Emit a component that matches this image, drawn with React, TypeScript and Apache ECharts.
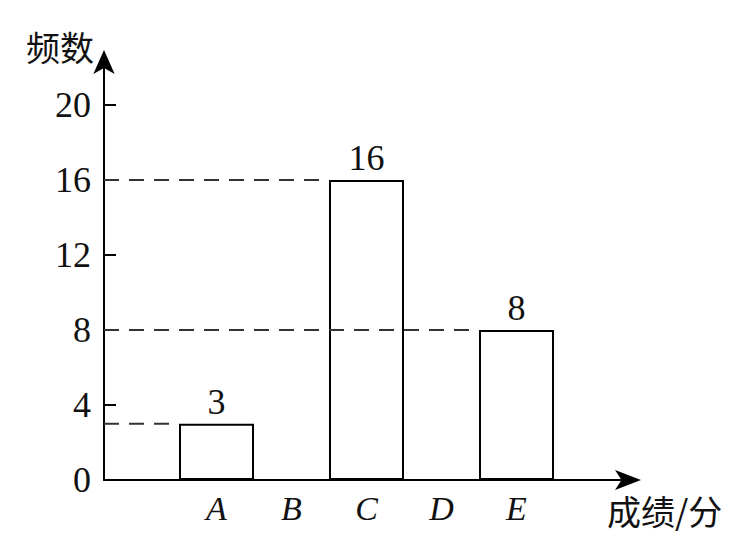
import React, { useEffect, useRef } from "react";
import * as echarts from "echarts";

const categories = ["A", "B", "C", "D", "E"];
const counts = [3, 0, 16, 0, 8];
const yTicks = [0, 4, 8, 12, 16, 20];
const yName = "频数";
const xName = "成绩/分";

const SERIF = "'Liberation Serif', 'Times New Roman', serif";
const CJK = "'Noto Sans CJK SC', sans-serif";

export default function App() {
  const ref = useRef<HTMLDivElement>(null);
  useEffect(() => {
    if (!ref.current) return;
    const chart = echarts.init(ref.current, null, { renderer: "svg" });
    const axisCats = ["", ...categories, ""];
    const barData: any[] = ["-", ...counts, "-"];
    const dashData = counts
      .map((v, i) => [i + 1, v])
      .filter((d) => d[1] > 0);
    chart.setOption({
      animation: false,
      backgroundColor: "#fff",
      grid: { left: 104, right: 107, top: 60, bottom: 65, containLabel: false },
      xAxis: {
        type: "category",
        data: axisCats,
        boundaryGap: true,
        name: xName,
        nameLocation: "end",
        nameGap: -22,
        nameTextStyle: {
          fontFamily: CJK,
          fontSize: 34,
          color: "#111",
          align: "left",
          verticalAlign: "top",
          padding: [14, 0, 0, 0],
        },
        axisLine: {
          show: true,
          symbol: ["none", "arrow"],
          symbolSize: [15, 26],
          symbolOffset: [0, 12],
          lineStyle: { color: "#000", width: 2 },
        },
        axisTick: { show: false },
        axisLabel: {
          fontFamily: SERIF,
          fontStyle: "italic",
          fontSize: 34,
          color: "#111",
          margin: 11,
          interval: 0,
        },
        splitLine: { show: false },
      },
      yAxis: {
        type: "value",
        min: 0,
        max: 22.4,
        interval: 4,
        name: yName,
        nameLocation: "end",
        nameGap: 14,
        nameTextStyle: {
          fontFamily: CJK,
          fontSize: 34,
          color: "#111",
          align: "right",
          verticalAlign: "middle",
          padding: [0, 10, 0, 0],
        },
        axisLine: {
          show: true,
          symbol: ["none", "arrow"],
          symbolSize: [16, 24],
          symbolOffset: [0, 10],
          lineStyle: { color: "#000", width: 2 },
        },
        axisTick: {
          show: true,
          inside: true,
          length: 12,
          customValues: yTicks,
          lineStyle: { color: "#000", width: 2 },
        },
        axisLabel: {
          fontFamily: SERIF,
          fontSize: 36,
          color: "#111",
          margin: 13,
          customValues: yTicks,
          formatter: (v: number) => (yTicks.includes(v) ? String(v) : ""),
        },
        splitLine: { show: false },
      },
      series: [
        {
          type: "bar",
          data: barData,
          barWidth: "100%",
          itemStyle: { color: "#fff", borderColor: "#000", borderWidth: 2 },
          label: {
            show: true,
            position: "top",
            distance: 4,
            fontFamily: SERIF,
            fontSize: 36,
            color: "#111",
            formatter: (p: any) => (p.value ? String(p.value) : ""),
          },
        },
        {
          type: "custom",
          data: dashData,
          z: 3,
          renderItem: (params: any, api: any) => {
            const p = api.coord([api.value(0), api.value(1)]);
            const w = api.size([1, 0])[0];
            return {
              type: "line",
              shape: { x1: params.coordSys.x, y1: p[1], x2: p[0] - w / 2, y2: p[1] },
              style: { stroke: "#333", lineWidth: 2, lineDash: [15, 10] },
            };
          },
        },
      ],
    });
    return () => chart.dispose();
  }, []);
  return <div ref={ref} style={{ width: 736, height: 545, position: "absolute", left: 0, top: 0 }} />;
}
